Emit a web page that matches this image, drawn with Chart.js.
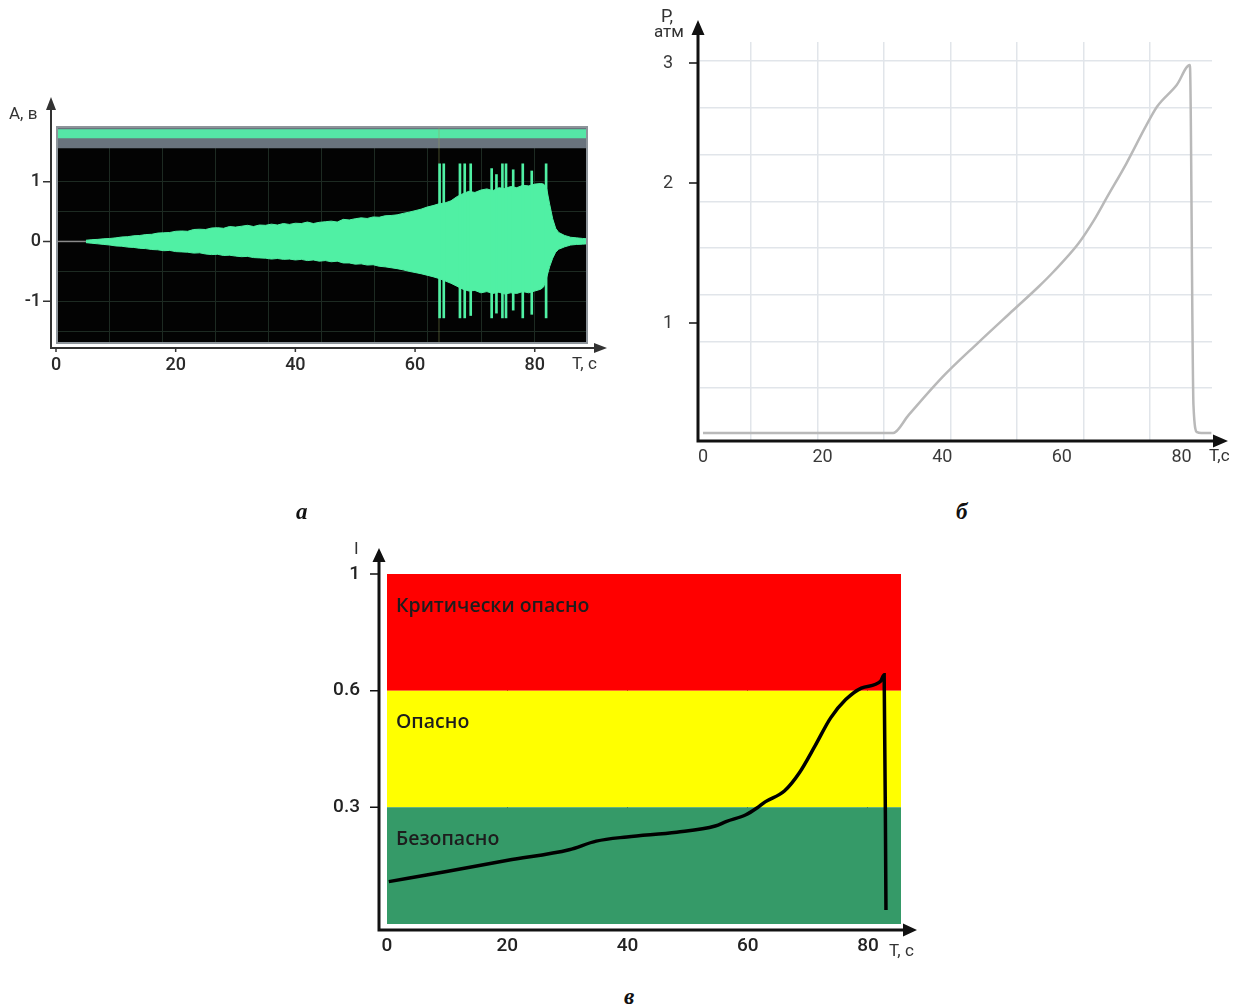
<!DOCTYPE html>
<html lang="ru">
<head>
<meta charset="utf-8">
<title>Сигнал, давление и индекс опасности</title>
<script src="https://cdn.jsdelivr.net/npm/chart.js@4.4.1/dist/chart.umd.min.js"></script>
<style>
  html, body { margin: 0; padding: 0; background: #fff; }
  body { width: 1242px; height: 1007px; position: relative; overflow: hidden; font-family: Roboto, sans-serif; }
  .pane { position: absolute; }
  .lbl { position: absolute; color: #333; font-size: 17px; line-height: 1; white-space: nowrap; }
  .letter { position: absolute; font-family: "Liberation Serif", serif; font-style: italic; font-weight: bold; font-size: 23px; line-height: 1; color: #111; }
</style>
</head>
<body>
<div class="pane" style="left:0;top:80px;width:630px;height:310px"><canvas id="chart-a"></canvas></div>
<div class="pane" style="left:640px;top:0;width:602px;height:480px"><canvas id="chart-b"></canvas></div>
<div class="pane" style="left:330px;top:530px;width:600px;height:440px"><canvas id="chart-c"></canvas></div>

<div class="lbl" style="left:9px;top:105px">A, в</div>
<div class="lbl" style="left:572px;top:355px">T, с</div>
<div class="lbl" style="left:661px;top:7px;font-size:18px">P,</div>
<div class="lbl" style="left:654px;top:23px;font-size:17px">атм</div>
<div class="lbl" style="left:1209px;top:447px">T,с</div>
<div class="lbl" style="left:354px;top:540px">I</div>
<div class="lbl" style="left:889px;top:942px">T, с</div>

<div class="letter" style="left:296px;top:500px">а</div>
<div class="letter" style="left:956px;top:500px">б</div>
<div class="letter" style="left:624px;top:985px">в</div>

<script>
// --- а: амплитуда акустического сигнала ---
const timeTicks = [0, 20, 40, 60, 80];
const ampTicks = [-1, 0, 1];
const ampGrid = [-1.5, -1, -0.5, 0, 0.5, 1];
const waveTime = [
  5, 6, 7, 8, 9, 10, 11, 12, 13, 14, 15, 16, 17, 18, 19, 20, 21, 22, 23, 24,
  25, 26, 27, 28, 29, 30, 31, 32, 33, 34, 35, 36, 37, 38, 39, 40, 41, 42, 43, 44,
  45, 46, 47, 48, 49, 50, 51, 52, 53, 54, 55, 56, 57, 58, 59, 60, 61, 62, 63, 64,
  65, 66, 67, 68, 69, 70, 71, 72, 73, 74, 75, 76, 77, 78, 79, 80, 81,
  81.5, 82, 82.5, 83, 83.5, 84, 85, 86, 87, 88, 88.9
];
const waveUpper = [
  0.02, 0.03, 0.035, 0.045, 0.05, 0.06, 0.075, 0.08, 0.095, 0.1, 0.115, 0.12, 0.14, 0.145, 0.15, 0.17, 0.175, 0.17, 0.2, 0.205,
  0.2, 0.225, 0.23, 0.22, 0.25, 0.24, 0.255, 0.27, 0.25, 0.275, 0.27, 0.29, 0.275, 0.3, 0.285, 0.305, 0.3, 0.325, 0.3, 0.32,
  0.33, 0.34, 0.325, 0.37, 0.36, 0.38, 0.395, 0.385, 0.41, 0.405, 0.43, 0.435, 0.445, 0.47, 0.49, 0.515, 0.54, 0.575, 0.6, 0.63,
  0.645, 0.68, 0.75, 0.8, 0.84, 0.82, 0.86, 0.88, 0.85, 0.9, 0.885, 0.92, 0.9, 0.94, 0.93, 0.96, 0.97,
  0.96, 0.88, 0.62, 0.38, 0.22, 0.15, 0.1, 0.07, 0.06, 0.05, 0.045
];
const waveLower = [
  -0.02, -0.03, -0.04, -0.05, -0.06, -0.075, -0.08, -0.095, -0.1, -0.115, -0.12, -0.135, -0.14, -0.155, -0.15, -0.17, -0.175, -0.18, -0.195, -0.19,
  -0.21, -0.22, -0.215, -0.235, -0.23, -0.245, -0.255, -0.25, -0.27, -0.275, -0.28, -0.295, -0.285, -0.3, -0.295, -0.31, -0.3, -0.32, -0.31, -0.33,
  -0.32, -0.34, -0.33, -0.36, -0.36, -0.38, -0.375, -0.395, -0.39, -0.415, -0.425, -0.44, -0.455, -0.475, -0.5, -0.52, -0.54, -0.565, -0.59, -0.62,
  -0.66, -0.7, -0.75, -0.8, -0.83, -0.82, -0.86, -0.84, -0.87, -0.85, -0.88, -0.86, -0.87, -0.84, -0.86, -0.83, -0.8,
  -0.76, -0.6, -0.42, -0.28, -0.18, -0.13, -0.09, -0.06, -0.05, -0.045, -0.04
];
const spikeTime = [64.1, 64.8, 67.5, 68.3, 69.3, 72.8, 73.6, 74.6, 75.2, 76.4, 78.0, 79.5, 81.9];
const spikeTop = [1.3, 1.3, 1.3, 1.3, 1.3, 1.22, 1.12, 1.3, 1.3, 1.2, 1.3, 1.18, 1.3];
const spikeBottom = [-1.28, -1.28, -1.28, -1.28, -1.24, -1.28, -1.2, -1.28, -1.28, -1.15, -1.28, -1.22, -1.28];
const markerTime = 64;

// --- б: давление ---
const pressTicks = [1, 2, 3];
const pressTime = [0, 31.8, 34.3, 40.1, 45.9, 51.9, 56.1, 58.6, 62.8, 65.4, 67.6, 70.8, 74, 75.9, 79.2, 81.4, 82.0, 82.6, 83.3, 85];
const pressValue = [0.068, 0.068, 0.215, 0.545, 0.828, 1.093, 1.259, 1.366, 1.569, 1.736, 1.902, 2.164, 2.469, 2.636, 2.817, 2.983, 0.305, 0.075, 0.068, 0.068];

// --- в: индекс опасности ---
const riskTicks = [0.3, 0.6, 1];
const zoneEdges = [0, 0.3, 0.6, 1];
const zoneNames = ["Безопасно", "Опасно", "Критически опасно"];
const riskTime = [0.3, 9.9, 20.1, 30.3, 34.8, 39.9, 48.2, 54.6, 56.5, 59.7, 61.6, 62.9, 66.1, 68.6, 71.2, 73.8, 76.3, 78.9, 82.1, 82.7, 83.0];
const riskValue = [0.109, 0.135, 0.164, 0.191, 0.213, 0.224, 0.236, 0.252, 0.264, 0.281, 0.299, 0.314, 0.342, 0.389, 0.458, 0.530, 0.577, 0.609, 0.632, 0.655, 0.036];

const zoneColors = ["#359a68", "#ffff00", "#ff0000"];
const waveGreen = "#50f0a4";
const tickFont = { family: "Roboto", size: 18, weight: 500 };

const pts = (xs, ys) => xs.map((x, i) => ({ x, y: ys[i] }));
const fixTicks = (values) => (s) => { s.ticks = values.map((value) => ({ value })); };
const noSize = (s) => { if (s.isHorizontal()) s.height = 0; else s.width = 0; };

// axis whose pixels follow the uneven spacing of the printed tick marks
class PiecewiseScale extends Chart.LinearScale {
  static id = "piecewise";
  static defaults = Chart.LinearScale.defaults;
  toDecimal(value) {
    const { stops, fracs } = this.options.piecewise;
    let i = 1;
    while (i < stops.length - 1 && value > stops[i]) i++;
    return fracs[i - 1] + (value - stops[i - 1]) / (stops[i] - stops[i - 1]) * (fracs[i] - fracs[i - 1]);
  }
  getPixelForValue(value) {
    if (value === null || value === undefined || isNaN(value)) return NaN;
    return this.getPixelForDecimal(this.toDecimal(value));
  }
  getValueForPixel(pixel) {
    const { stops, fracs } = this.options.piecewise;
    const d = this.getDecimalForPixel(pixel);
    let i = 1;
    while (i < fracs.length - 1 && d > fracs[i]) i++;
    return stops[i - 1] + (d - fracs[i - 1]) / (fracs[i] - fracs[i - 1]) * (stops[i] - stops[i - 1]);
  }
}
Chart.register(PiecewiseScale);

const arrowAxes = {
  id: "arrowAxes",
  afterDraw(chart, args, o) {
    const { ctx, chartArea: a, scales } = chart;
    const x0 = a.left - o.gapLeft;
    const y0 = a.bottom + o.gapBottom;
    ctx.save();
    ctx.strokeStyle = o.color;
    ctx.fillStyle = o.color;
    ctx.lineWidth = o.width;
    ctx.beginPath();
    ctx.moveTo(x0, y0 + o.width / 2);
    ctx.lineTo(x0, o.topY + o.head - 1);
    ctx.moveTo(x0 - o.width / 2, y0);
    ctx.lineTo(o.rightX - o.head + 1, y0);
    ctx.stroke();
    ctx.beginPath();
    ctx.moveTo(x0, o.topY);
    ctx.lineTo(x0 - o.headW / 2, o.topY + o.head);
    ctx.lineTo(x0 + o.headW / 2, o.topY + o.head);
    ctx.closePath();
    ctx.moveTo(o.rightX, y0);
    ctx.lineTo(o.rightX - o.head, y0 - o.headW / 2);
    ctx.lineTo(o.rightX - o.head, y0 + o.headW / 2);
    ctx.closePath();
    ctx.fill();
    ctx.lineWidth = o.tickWidth;
    ctx.beginPath();
    scales.y.ticks.forEach((t, i) => {
      if (!t.label) return;
      const py = scales.y.getPixelForTick(i);
      ctx.moveTo(x0 - o.tickLen, py);
      ctx.lineTo(x0, py);
    });
    scales.x.ticks.forEach((t, i) => {
      const px = scales.x.getPixelForTick(i);
      ctx.moveTo(px, y0);
      ctx.lineTo(px, y0 + o.xTickLen);
    });
    ctx.stroke();
    ctx.restore();
  },
};

const plotFrame = {
  id: "plotFrame",
  beforeDraw(chart, args, o) {
    const { ctx, chartArea: a } = chart;
    ctx.save();
    ctx.fillStyle = o.background;
    ctx.fillRect(a.left, a.top, a.width, a.height);
    ctx.restore();
  },
  afterDatasetsDraw(chart, args, o) {
    const { ctx, chartArea: a } = chart;
    ctx.save();
    ctx.strokeStyle = o.border;
    ctx.lineWidth = o.borderWidth;
    ctx.strokeRect(a.left + 1, a.top + 1, a.width - 2, a.height - 2);
    ctx.restore();
  },
};

const zoneLabels = {
  id: "zoneLabels",
  afterDatasetsDraw(chart, args, o) {
    const { ctx, chartArea: a, scales: { y } } = chart;
    ctx.save();
    ctx.font = o.font;
    ctx.fillStyle = o.color;
    ctx.textBaseline = "middle";
    zoneNames.forEach((name, i) => {
      ctx.fillText(name, a.left + o.dx, y.getPixelForValue(zoneEdges[i + 1]) + o.dy);
    });
    ctx.restore();
  },
};

const baseOptions = {
  responsive: true,
  maintainAspectRatio: false,
  animation: false,
  events: [],
};

const initWave = () => {
  const xMin = 0, xMax = 88.9, yMin = -1.717, yMax = 1.933;
  new Chart(document.getElementById("chart-a"), {
    type: "line",
    plugins: [plotFrame, arrowAxes],
    data: {
      datasets: [
        { data: [{ x: xMin, y: 0 }, { x: waveTime[0], y: 0 }], borderColor: "#8a8a8a", borderWidth: 1.5, pointRadius: 0 },
        { type: "bar", data: spikeTime.map((x, i) => ({ x, y: [spikeBottom[i], spikeTop[i]] })), backgroundColor: waveGreen, barThickness: 2 },
        { data: pts(waveTime, waveUpper), borderColor: waveGreen, backgroundColor: waveGreen, borderWidth: 1, pointRadius: 0, fill: "+1" },
        { data: pts(waveTime, waveLower), borderColor: waveGreen, borderWidth: 1, pointRadius: 0, fill: false },
        { data: [{ x: markerTime, y: yMin }, { x: markerTime, y: yMax }], borderColor: "rgba(150,165,90,0.45)", borderWidth: 1, pointRadius: 0 },
        { data: [{ x: xMin, y: 1.878 }, { x: xMax, y: 1.878 }], borderWidth: 0, pointRadius: 0, backgroundColor: "#55e6a6", fill: { value: 1.728 } },
        { data: [{ x: xMin, y: 1.933 }, { x: xMax, y: 1.933 }], borderWidth: 0, pointRadius: 0, backgroundColor: "#69737d", fill: { value: 1.562 } },
        { data: [{ x: markerTime, y: 1.6 }], pointRadius: 2, pointBackgroundColor: "#f0d060", pointBorderWidth: 0, showLine: false },
      ],
    },
    options: {
      ...baseOptions,
      layout: { padding: { top: 46, right: 42, left: 0, bottom: 0 } },
      plugins: {
        legend: { display: false },
        tooltip: { enabled: false },
        plotFrame: { background: "#030303", border: "#8d949a", borderWidth: 2 },
        arrowAxes: { color: "#333", width: 2, gapLeft: 5, gapBottom: 4, topY: 17, rightX: 607, head: 13, headW: 10, tickLen: 8, tickWidth: 1.5, xTickLen: 4 },
      },
      scales: {
        x: {
          type: "linear", min: xMin, max: xMax, offset: false,
          grid: { display: false, offset: false }, border: { display: false },
          afterBuildTicks: fixTicks(timeTicks),
          ticks: { font: tickFont, color: "#2a2a2a", padding: 3, maxRotation: 0 },
          afterFit: (s) => { s.height = 46; },
        },
        y: {
          type: "linear", min: yMin, max: yMax,
          grid: { color: "#1d2a22", lineWidth: 1, drawTicks: false }, border: { display: false },
          afterBuildTicks: fixTicks(ampGrid),
          ticks: { font: tickFont, color: "#2a2a2a", padding: 15, callback: (v) => (ampTicks.includes(v) ? String(v) : "") },
          afterFit: (s) => { s.width = 56; },
        },
        gx: {
          type: "linear", position: "top", min: -1.016, max: 9.018, offset: false,
          grid: { color: "#1d2a22", lineWidth: 1, drawTicks: false, offset: false }, border: { display: false },
          ticks: { display: false, stepSize: 1, includeBounds: false },
          afterFit: noSize,
        },
      },
    },
  });
};

const initPressure = () => {
  new Chart(document.getElementById("chart-b"), {
    type: "line",
    plugins: [arrowAxes],
    data: {
      datasets: [
        { data: pts(pressTime, pressValue), borderColor: "#b9b9b9", borderWidth: 2.5, pointRadius: 0, cubicInterpolationMode: "monotone", fill: false },
      ],
    },
    options: {
      ...baseOptions,
      layout: { padding: { top: 42, right: 30, left: 0, bottom: 0 } },
      plugins: {
        legend: { display: false },
        tooltip: { enabled: false },
        arrowAxes: { color: "#111", width: 3, gapLeft: 2, gapBottom: 0, topY: 20, rightX: 588, head: 15, headW: 13, tickLen: 9, tickWidth: 1.5, xTickLen: 0 },
      },
      scales: {
        x: {
          type: "linear", min: -0.5, max: 85.1,
          grid: { display: false }, border: { display: false },
          afterBuildTicks: fixTicks(timeTicks),
          ticks: { font: { ...tickFont, weight: 400 }, color: "#3a3a3a", padding: -2, maxRotation: 0 },
          afterFit: (s) => { s.height = 39; },
        },
        y: {
          type: "piecewise", min: 0, max: 3.175,
          piecewise: { stops: [0, 1, 2, 3], fracs: [0, 118 / 399, 258 / 399, 378 / 399] },
          grid: { display: false }, border: { display: false },
          afterBuildTicks: fixTicks(pressTicks),
          ticks: { font: { ...tickFont, weight: 400 }, color: "#3a3a3a", padding: 19, callback: (v) => String(v) },
          afterFit: (s) => { s.width = 60; },
        },
        px: {
          type: "linear", position: "top", min: -0.767, max: 6.93,
          grid: { color: "#e1e5ea", lineWidth: 1.5, drawTicks: false }, border: { display: false },
          ticks: { display: false, stepSize: 1, includeBounds: false },
          afterFit: noSize,
        },
        py: {
          type: "linear", position: "right", min: -0.13, max: 8.41,
          grid: { color: "#e1e5ea", lineWidth: 1.5, drawTicks: false }, border: { display: false },
          ticks: { display: false, stepSize: 1, includeBounds: false },
          afterBuildTicks: (s) => { s.ticks = s.ticks.filter((t) => t.value >= 1); },
          afterFit: noSize,
        },
      },
    },
  });
};

const initRisk = () => {
  const xMin = 0, xMax = 85.5;
  const zones = zoneNames.map((name, i) => ({
    data: [{ x: xMin, y: zoneEdges[i + 1] }, { x: xMax, y: zoneEdges[i + 1] }],
    backgroundColor: zoneColors[i],
    borderWidth: 0,
    pointRadius: 0,
    fill: { value: zoneEdges[i] },
    order: 2,
  }));
  new Chart(document.getElementById("chart-c"), {
    type: "line",
    plugins: [arrowAxes, zoneLabels],
    data: {
      datasets: [
        { data: pts(riskTime, riskValue), borderColor: "#000", borderWidth: 3.5, pointRadius: 0, cubicInterpolationMode: "monotone", fill: false, order: 0 },
        ...zones,
      ],
    },
    options: {
      ...baseOptions,
      layout: { padding: { top: 44, right: 29, left: 0, bottom: 0 } },
      plugins: {
        legend: { display: false },
        tooltip: { enabled: false },
        zoneLabels: { font: "600 19.5px 'Open Sans'", color: "#1d1d1d", dx: 9, dy: 32 },
        arrowAxes: { color: "#111", width: 3, gapLeft: 8, gapBottom: 6, topY: 18, rightX: 587, head: 14, headW: 13, tickLen: 9, tickWidth: 1.5, xTickLen: 0 },
      },
      scales: {
        x: {
          type: "linear", min: xMin, max: xMax, z: 1,
          grid: { color: (c) => (c.tick && c.tick.value === 0 ? "rgba(0,0,0,0)" : "#1f1f1f"), lineWidth: 1, drawTicks: false },
          border: { display: false },
          afterBuildTicks: fixTicks(timeTicks),
          ticks: { font: { ...tickFont, size: 19 }, color: "#222", padding: 11, maxRotation: 0 },
          afterFit: (s) => { s.height = 46; },
        },
        y: {
          type: "piecewise", min: 0, max: 1,
          piecewise: { stops: zoneEdges, fracs: [0, 1 / 3, 2 / 3, 1] },
          grid: { display: false }, border: { display: false },
          afterBuildTicks: fixTicks(riskTicks),
          ticks: { font: { ...tickFont, size: 19 }, color: "#222", padding: 19, callback: (v) => String(v) },
          afterFit: (s) => { s.width = 57; },
        },
      },
    },
  });
};

window.addEventListener("DOMContentLoaded", () => {
  initWave();
  initPressure();
  initRisk();
});
</script>
</body>
</html>
